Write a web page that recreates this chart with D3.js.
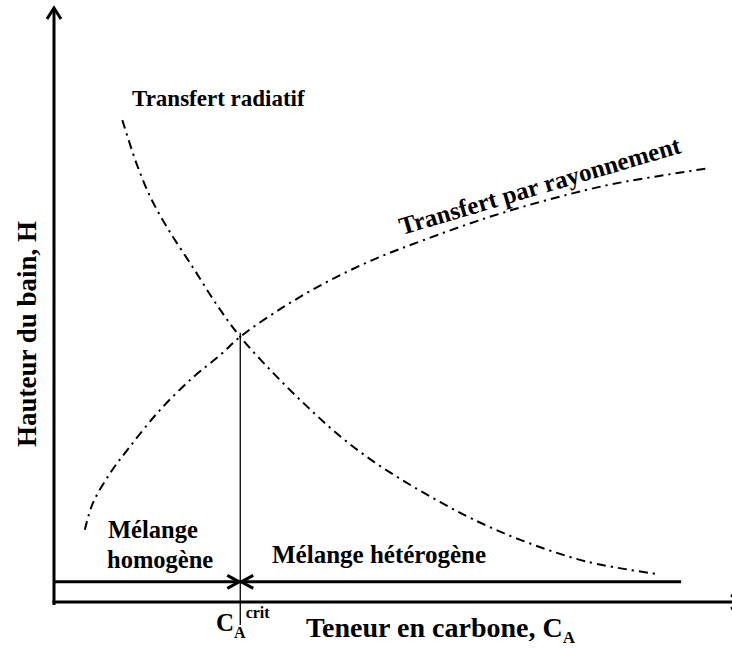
<!DOCTYPE html>
<html>
<head>
<meta charset="utf-8">
<script src="https://cdn.jsdelivr.net/npm/d3@7"></script>
<style>
  html, body { margin: 0; padding: 0; background: #fff; }
  svg { display: block; }
  text { font-family: "Liberation Serif", "Times New Roman", serif; font-weight: bold; fill: #000; }
</style>
</head>
<body>
<svg id="chart" width="732" height="649"></svg>
<script>
// Carbon content (x) vs bath height (y), arbitrary units 0–100
const radiatifX = [10.2, 12.4, 14.6, 17.3, 20.8, 24.3, 27.8, 32.7, 37.8, 42.7, 47.6, 52.7, 57.6, 62.5, 69.6, 79.6, 90.2];
const radiatifY = [81.4, 73.8, 67.9, 62.5, 56.4, 50.2, 44.8, 38.7, 33.0, 28.0, 23.8, 20.1, 16.9, 14.0, 10.5, 6.8, 4.7];

const rayonnementX = [4.6, 5.8, 8.4, 11.3, 15.8, 20.8, 24.8, 27.8, 34.2, 40.8, 47.6, 55.1, 64.6, 73.6, 83.4, 97.9];
const rayonnementY = [12.2, 16.7, 21.8, 26.2, 32.4, 38.0, 41.7, 44.8, 49.8, 54.1, 57.8, 61.1, 64.9, 67.9, 70.6, 73.3];

// Critical carbon content where both curves meet
const critX = 27.8;
const critY = 44.8;
// Level of the mixing-regime arrows and their right end
const regimeY = 3.4;
const regimeEndX = 93.6;

const svg = d3.select("#chart");

const x = d3.scaleLinear().domain([0, 100]).range([54, 724]);
const y = d3.scaleLinear().domain([0, 100]).range([602, 10]);

const line = d3.line()
  .x(d => x(d[0]))
  .y(d => y(d[1]))
  .curve(d3.curveCatmullRom.alpha(0.5));

const dash = "9,5,2.2,5";

svg.append("path")
  .datum(d3.zip(radiatifX, radiatifY))
  .attr("d", line)
  .attr("fill", "none")
  .attr("stroke", "#000")
  .attr("stroke-width", 2)
  .attr("stroke-dasharray", dash);

svg.append("path")
  .datum(d3.zip(rayonnementX, rayonnementY))
  .attr("d", line)
  .attr("fill", "none")
  .attr("stroke", "#000")
  .attr("stroke-width", 2)
  .attr("stroke-dasharray", dash);

// Vertical marker at the critical content
svg.append("line")
  .attr("x1", x(critX)).attr("x2", x(critX))
  .attr("y1", y(critY) - 4).attr("y2", 625)
  .attr("stroke", "#000").attr("stroke-width", 1.3);

// Axes drawn as plain arrows
const x0 = x(0), y0 = y(0);
const g = svg.append("g").attr("stroke", "#000").attr("stroke-width", 3).attr("fill", "none")
  .attr("stroke-linecap", "butt");

g.append("line").attr("x1", x0).attr("y1", y0 + 3).attr("x2", x0).attr("y2", 8);
g.append("path").attr("d", `M${x0 - 7},${19} L${x0},${8} L${x0 + 7},${19}`).attr("stroke-linejoin", "miter");

g.append("line").attr("x1", x0 - 1.5).attr("y1", y0).attr("x2", 742).attr("y2", y0);
g.append("path").attr("d", `M${731},${y0 - 7} L${742},${y0} L${731},${y0 + 7}`);

// Mixing regime arrows meeting at the critical content
const ry = y(regimeY), cx = x(critX);
g.append("line").attr("x1", x0).attr("y1", ry).attr("x2", cx - 1).attr("y2", ry);
g.append("path").attr("d", `M${cx - 13},${ry - 6.5} L${cx - 1},${ry} L${cx - 13},${ry + 6.5}`);
g.append("line").attr("x1", cx + 1).attr("y1", ry).attr("x2", x(regimeEndX)).attr("y2", ry);
g.append("path").attr("d", `M${cx + 13},${ry - 6.5} L${cx + 1},${ry} L${cx + 13},${ry + 6.5}`);

// Labels
svg.append("text").attr("x", 132).attr("y", 106).attr("font-size", 23).text("Transfert radiatif");

svg.append("text")
  .attr("transform", "translate(402,235) rotate(-16.4)")
  .attr("font-size", 25)
  .text("Transfert par rayonnement");

svg.append("text").attr("x", 108).attr("y", 538).attr("font-size", 24.5).text("Mélange");
svg.append("text").attr("x", 107).attr("y", 568).attr("font-size", 24.5).text("homogène");
svg.append("text").attr("x", 272).attr("y", 563).attr("font-size", 25).text("Mélange hétérogène");

// Critical content label
const crit = svg.append("text").attr("x", 216).attr("y", 631).attr("font-size", 25);
crit.append("tspan").text("C");
crit.append("tspan").attr("font-size", 16).attr("dy", 7).text("A");
crit.append("tspan").attr("font-size", 16).attr("dy", -20).text("crit");

// Axis titles
const xt = svg.append("text").attr("x", 306).attr("y", 637).attr("font-size", 28);
xt.append("tspan").text("Teneur en carbone, C");
xt.append("tspan").attr("font-size", 17).attr("dy", 6).text("A");

svg.append("text")
  .attr("transform", "translate(36,334) rotate(-90)")
  .attr("text-anchor", "middle")
  .attr("font-size", 27)
  .text("Hauteur du bain, H");
</script>
</body>
</html>
